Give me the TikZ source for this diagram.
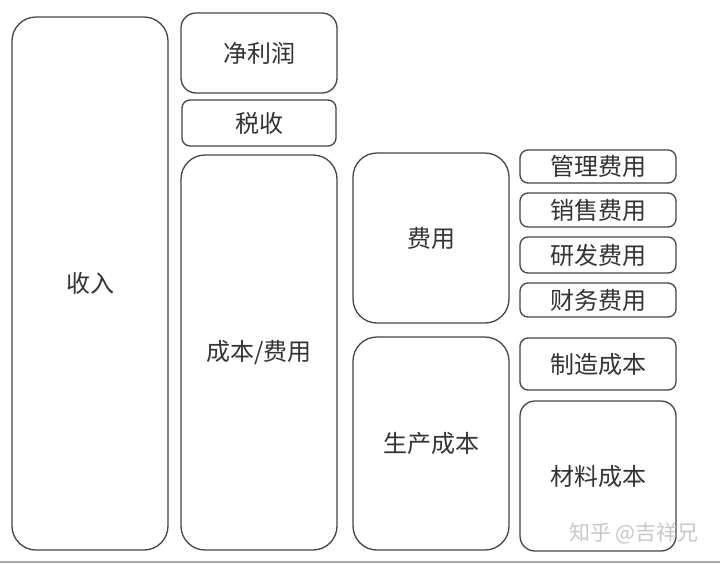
\documentclass[tikz,border=0pt]{standalone}
\usepackage{fontspec}
\setmainfont{Noto Sans CJK SC}
\definecolor{edge}{HTML}{454545}
\definecolor{txt}{HTML}{333333}
\definecolor{wm}{HTML}{C8C8C8}
\tikzset{
  box/.style={draw=edge, line width=1.3pt, fill=white, text=txt, inner sep=0pt,
    font=\fontsize{24}{28}\selectfont},
  bigbox/.style={box, rounded corners=24pt},
  midbox/.style={box, rounded corners=15pt},
  smallbox/.style={box, rounded corners=8pt},
}
\begin{document}
\begin{tikzpicture}[x=1pt,y=-1pt]
\fill[white] (0,0) rectangle (720,563);
\useasboundingbox (0,0) rectangle (720,563);
% column 1
\node[bigbox, minimum width=156pt, minimum height=533pt] (income) at (90,283.5) {收入};
% column 2
\node[midbox, minimum width=156pt, minimum height=80pt] (profit) at (259,53) {净利润};
\node[smallbox, minimum width=154pt, minimum height=46pt] (tax) at (259,123) {税收};
\node[bigbox, minimum width=156pt, minimum height=395pt] (cost) at (259,352.5) {成本/费用};
% column 3
\node[bigbox, minimum width=156pt, minimum height=170pt] (expense) at (431,238) {费用};
\node[bigbox, minimum width=156pt, minimum height=213pt] (prod) at (431,443.5) {生产成本};
% column 4
\node[smallbox, minimum width=156pt, minimum height=33pt] (mgmt) at (598,166.5) {管理费用};
\node[smallbox, minimum width=156pt, minimum height=34pt] (sales) at (598,210) {销售费用};
\node[smallbox, minimum width=156pt, minimum height=36pt] (rnd) at (598,255) {研发费用};
\node[smallbox, minimum width=156pt, minimum height=34pt] (fin) at (598,300) {财务费用};
\node[smallbox, minimum width=156pt, minimum height=52pt] (mfg) at (598,364) {制造成本};
\node[midbox, minimum width=156pt, minimum height=150pt] (mat) at (598,476) {材料成本};
% watermark
\node[text=wm, font=\fontsize{21}{25}\selectfont, inner sep=0pt] (wmark) at (634,533) {知乎 @吉祥兄};
% bottom strip
\fill[gray!70] (0,560.5) rectangle (720,563);
\end{tikzpicture}
\end{document}
